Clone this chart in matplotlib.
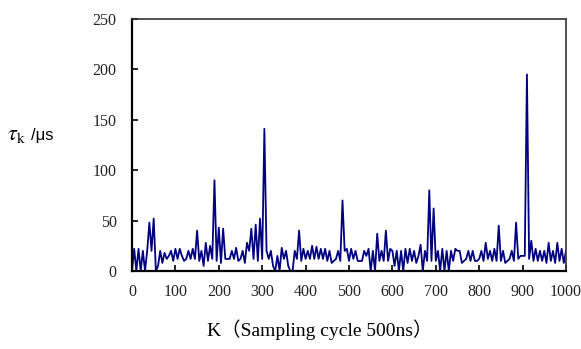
import matplotlib
matplotlib.use("Agg")
import matplotlib.pyplot as plt
import numpy as np

plt.rcParams["mathtext.fontset"] = "stix"

# Sample index K (sampling cycle 500 ns), one reading every 5 cycles
k_values = list(range(0, 1001, 5))

# tau_k in microseconds
tau_us = [
    0, 22, 0, 22, 0, 20, 0, 20, 48, 20, 52, 0, 5, 20, 8, 18, 12, 15, 20, 10,      # 0-95
    22, 12, 22, 15, 10, 12, 20, 12, 22, 12, 40, 10, 20, 5, 28, 10, 25, 12, 90, 10,  # 100-195
    43, 8, 42, 12, 12, 12, 20, 12, 23, 10, 12, 20, 8, 28, 20, 42, 12, 46, 10, 52,  # 200-295
    12, 141, 20, 12, 20, 5, 0, 15, 0, 23, 12, 20, 5, 0, 0, 20, 12, 40, 10, 22,    # 300-395
    12, 20, 12, 25, 12, 24, 12, 22, 12, 22, 10, 20, 8, 10, 12, 20, 10, 70, 20, 22,  # 400-495
    10, 22, 12, 20, 10, 10, 10, 20, 15, 22, 0, 20, 0, 37, 10, 20, 10, 40, 10, 22,   # 500-595
    20, 5, 20, 0, 20, 0, 22, 8, 22, 10, 20, 8, 15, 26, 0, 20, 10, 80, 10, 62,       # 600-695
    10, 20, 0, 22, 0, 20, 0, 20, 10, 22, 20, 20, 8, 10, 12, 20, 10, 20, 10, 10,     # 700-795
    12, 20, 10, 28, 12, 20, 10, 22, 10, 45, 10, 20, 8, 10, 12, 20, 10, 48, 12, 15,  # 800-895
    15, 15, 195, 12, 30, 10, 22, 10, 20, 10, 20, 8, 28, 10, 20, 8, 28, 10, 22, 8,   # 900-995
    20,                                                                             # 1000
]

x_ticks = list(range(0, 1001, 100))
y_ticks = [0, 50, 100, 150, 200, 250]

fig = plt.figure(figsize=(5.81, 3.49), dpi=100)
ax = fig.add_axes([132 / 581, 1 - 271 / 349, (566 - 132) / 581, (271 - 19) / 349])

ax.plot(k_values, tau_us, color="#000080", lw=1.3)

ax.set_xlim(0, 1000)
ax.set_ylim(0, 250)
ax.set_xticks(x_ticks)
ax.set_yticks(y_ticks)

serif = ["Liberation Serif", "DejaVu Serif"]
for lab in ax.get_xticklabels() + ax.get_yticklabels():
    lab.set_fontfamily(serif)
    lab.set_fontsize(11.5)
    lab.set_color("#222222")

ax.tick_params(axis="both", direction="in", length=4, width=1.2, color="black",
               top=False, right=False)
ax.tick_params(axis="y", pad=11)
ax.tick_params(axis="x", pad=9)

for side in ("left", "bottom"):
    ax.spines[side].set_color("black")
    ax.spines[side].set_linewidth(1.6)
for side in ("top", "right"):
    ax.spines[side].set_color("#333333")
    ax.spines[side].set_linewidth(1.2)

fig.text(320 / 581, 1 - 330 / 349, "K（Sampling cycle 500ns）",
         ha="center", va="center", fontsize=14,
         family=["Liberation Serif", "Noto Sans CJK SC"])

fig.text(7 / 581, 1 - 140 / 349, r"$\tau_{\mathrm{k}}$", ha="left", va="baseline",
         fontsize=16)
fig.text(31 / 581, 1 - 140 / 349, "/μs", ha="left", va="baseline",
         fontsize=12, family=["Liberation Sans", "DejaVu Sans"])

fig.savefig("out.png", dpi=100)
